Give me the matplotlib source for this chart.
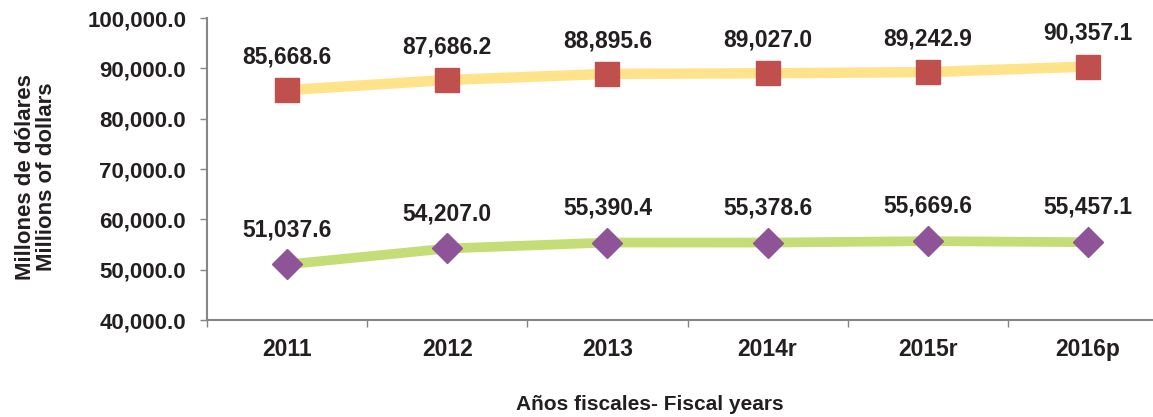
import numpy as np
import matplotlib.pyplot as plt
from matplotlib.ticker import FixedLocator

plt.rcParams['font.family'] = ['Liberation Sans', 'DejaVu Sans']
plt.rcParams['font.weight'] = 'bold'

years = ['2011', '2012', '2013', '2014r', '2015r', '2016p']
serie_alta = [85668.6, 87686.2, 88895.6, 89027.0, 89242.9, 90357.1]
serie_baja = [51037.6, 54207.0, 55390.4, 55378.6, 55669.6, 55457.1]

fig = plt.figure(figsize=(11.53, 4.17), dpi=100)
# l'axe x continue au-dela du bord droit (comme Excel)
ax = fig.add_axes([207/1153, 97/417, 961/1153, 302/417])

x = np.arange(len(years))
ax.plot(x, serie_alta, color='#FFE38B', lw=7.5, marker='s', ms=17,
        mfc='#C0504D', mec='#C0504D', solid_capstyle='butt', zorder=3)
ax.plot(x, serie_baja, color='#C5DD76', lw=7, marker='D', ms=15,
        mfc='#8E5497', mec='#8E5497', solid_capstyle='butt', zorder=3)

for i in range(len(years)):
    ax.annotate(f'{serie_alta[i]:,.1f}', (x[i], serie_alta[i]), xytext=(0, 24),
                textcoords='offset points', ha='center', va='center',
                fontsize=16.5, fontweight='bold', color='#231F20')
    ax.annotate(f'{serie_baja[i]:,.1f}', (x[i], serie_baja[i]), xytext=(0, 25),
                textcoords='offset points', ha='center', va='center',
                fontsize=16.5, fontweight='bold', color='#231F20')

ax.set_xlim(-0.5, 5.5)
ax.set_ylim(40000, 100000)
ax.set_yticks(np.arange(40000, 100001, 10000))
ax.set_yticklabels([f'{v:,.1f}' for v in np.arange(40000, 100001, 10000)])
ax.set_xticks(x)
ax.set_xticklabels(years)
ax.xaxis.set_minor_locator(FixedLocator(np.arange(-0.5, 6, 1)))
ax.tick_params(axis='x', which='major', length=0, pad=13, labelsize=16.5, labelcolor='#231F20')
ax.tick_params(axis='x', which='minor', length=5, width=1, color='#868686')
ax.tick_params(axis='y', length=5, width=1, color='#868686', pad=10,
               labelsize=16, labelcolor='#231F20')

for s in ['top', 'right']:
    ax.spines[s].set_visible(False)
for s in ['left', 'bottom']:
    ax.spines[s].set_color('#868686')
    ax.spines[s].set_linewidth(1.5)

fig.text(36/1153, 1 - 177/417, 'Millones de dólares\nMillions of dollars', rotation=90,
         ha='center', va='center', fontsize=16, fontweight='bold', color='#231F20',
         linespacing=1.05)
fig.text(650/1153, 1 - 405/417, 'Años fiscales- Fiscal years', ha='center', va='center',
         fontsize=15, fontweight='bold', color='#231F20')

fig.savefig('out.png', dpi=100)
